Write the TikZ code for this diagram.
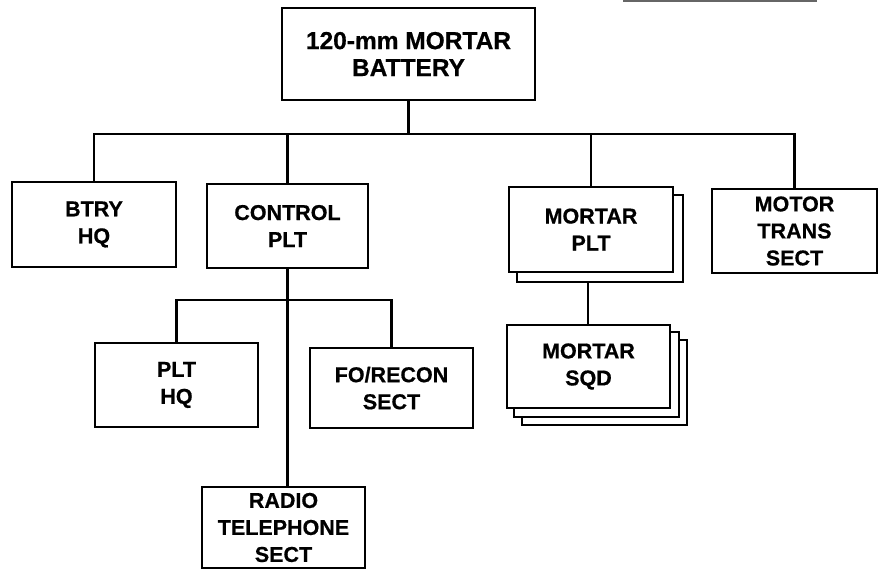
\documentclass[tikz,border=0pt]{standalone}
\usepackage{fontspec}
\setmainfont{Liberation Sans}[BoldFeatures={FakeBold=0.6}]
\usetikzlibrary{backgrounds}
\tikzset{
  unit/.style={draw, line width=2.2pt, fill=white, align=center, inner sep=0pt,
    font=\fontsize{21.5}{27}\selectfont\bfseries},
  link/.style={line width=2.2pt},
  backbox/.style={draw, line width=2.2pt, fill=white}
}
\begin{document}
\begin{tikzpicture}[x=1pt,y=-1pt]
\useasboundingbox (0,0) rectangle (882,571);
% scan artifact line at top
\draw[line width=2pt, black!60] (623,1) -- (817,1);
% nodes
\node[unit, minimum width=253pt, minimum height=92pt, font=\fontsize{24.5}{27}\selectfont\bfseries] (top) at (408.5,54) {120-mm MORTAR\\BATTERY};
\node[unit, minimum width=164pt, minimum height=85pt] (btry) at (94,224.5) {BTRY\\HQ};
\node[unit, minimum width=161pt, minimum height=84pt] (ctrl) at (287.5,226) {CONTROL\\PLT};
\node[unit, minimum width=164pt, minimum height=85pt] (mplt) at (591,229.5) {MORTAR\\PLT};
\node[unit, minimum width=165pt, minimum height=84pt] (motor) at (794.5,231) {MOTOR\\TRANS\\SECT};
\node[unit, minimum width=163pt, minimum height=84pt] (plthq) at (176.5,385) {PLT\\HQ};
\node[unit, minimum width=163pt, minimum height=80pt] (fo) at (391.5,388) {FO/RECON\\SECT};
\node[unit, minimum width=163pt, minimum height=81pt] (radio) at (283.5,527.5) {RADIO\\TELEPHONE\\SECT};
\node[unit, minimum width=163pt, minimum height=83pt] (msqd) at (588.5,366.5) {MORTAR\\SQD};
% stacked copies behind
\begin{pgfonlayer}{background}
  \draw[backbox] ([shift={(9,9)}]mplt.north west) rectangle ([shift={(9,9)}]mplt.south east);
  \draw[backbox] ([shift={(16,16)}]msqd.north west) rectangle ([shift={(16,16)}]msqd.south east);
  \draw[backbox] ([shift={(8,8)}]msqd.north west) rectangle ([shift={(8,8)}]msqd.south east);
\end{pgfonlayer}
% connectors
\coordinate (bus) at (0,134);
\coordinate (sub) at (0,300);
\draw[link] (top.south) -- (top.south |- bus);
\draw[link] (btry.north) -- (btry.north |- bus) -- (motor.north |- bus) -- (motor.north);
\draw[link] (ctrl.north) -- (ctrl.north |- bus);
\draw[link] (mplt.north) -- (mplt.north |- bus);
\draw[link] (ctrl.south) -- (ctrl.south |- radio.north);
\draw[link] (plthq.north) -- (plthq.north |- sub) -- (fo.north |- sub) -- (fo.north);
\draw[link] ([xshift=-3pt]mplt.south) ++(0,9) -- ([xshift=-3pt]mplt.south |- msqd.north);
\end{tikzpicture}
\end{document}
